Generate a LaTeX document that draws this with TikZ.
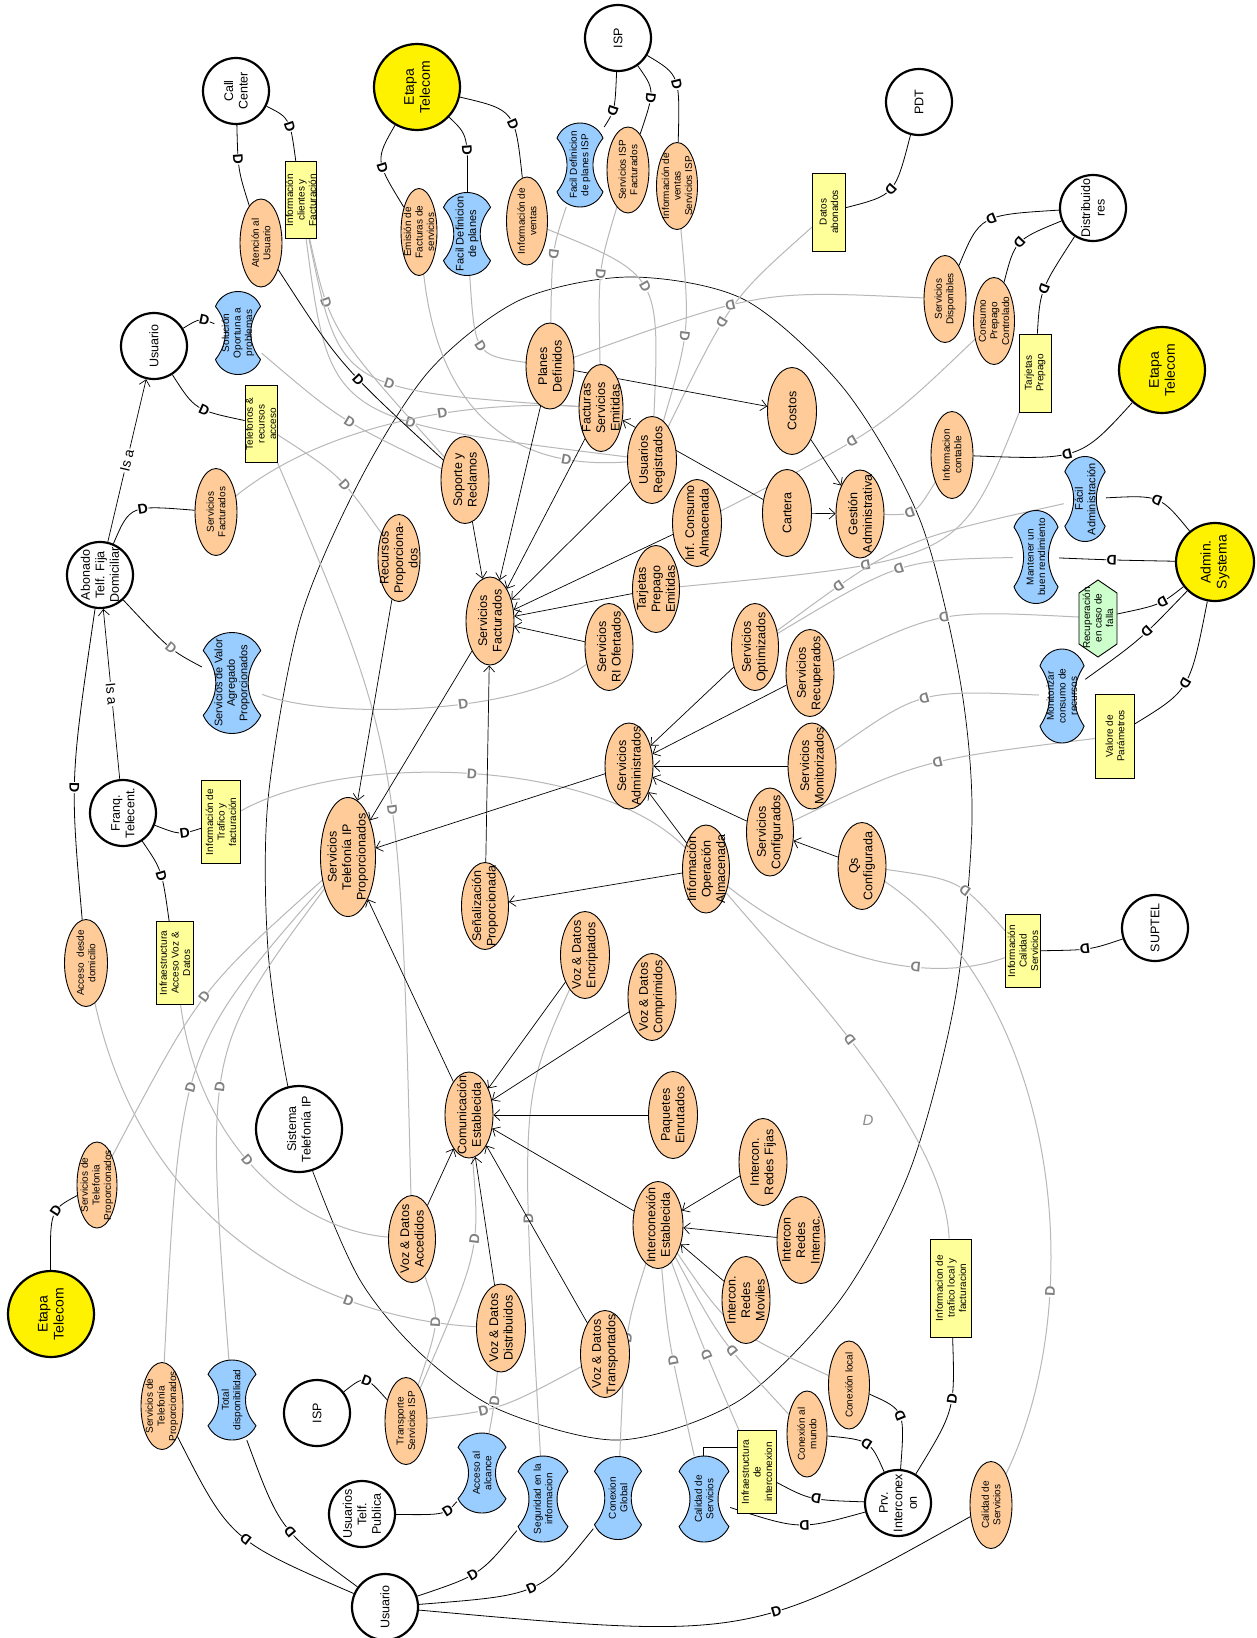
\documentclass[tikz,border=0pt]{standalone}
\usepackage{fontspec}
\setmainfont{Liberation Sans}
\usetikzlibrary{shapes.geometric,arrows.meta,backgrounds}

\definecolor{peach}{HTML}{FFCC99}
\definecolor{lightyel}{HTML}{FFFF99}
\definecolor{sky}{HTML}{99CCFF}
\definecolor{taskgreen}{HTML}{CCFFCC}

\newcommand{\fetapa}{\fontsize{14}{16}\selectfont}
\newcommand{\fact}{\fontsize{12.5}{14.5}\selectfont}
\newcommand{\fbig}{\fontsize{12.5}{14.5}\selectfont}
\newcommand{\fmid}{\fontsize{11}{12.5}\selectfont}
\newcommand{\fsmall}{\fontsize{10}{11.6}\selectfont}

\tikzset{
  actor/.style={circle, draw, line width=2.2pt, fill=white, inner sep=0pt},
  etapa/.style={actor, fill=yellow},
  goal/.style={ellipse, draw, line width=0.9pt, fill=peach, inner sep=0pt, rotate=90},
  resource/.style={rectangle, draw, line width=0.9pt, fill=lightyel, inner sep=0pt, rotate=90},
  lbl/.style={rotate=90, align=center, inner sep=0pt},
  softgoal/.style={draw, line width=0.9pt, fill=sky, line join=round},
  task/.style={draw, line width=0.9pt, fill=taskgreen},
  bound/.style={draw, line width=0.7pt},
  dep/.style={draw, line width=0.8pt},
  gdep/.style={draw=black!28, line width=1pt},
  dmark/.style={sloped, allow upside down, fill=white, inner sep=0.4pt, font=\bfseries\fontsize{14}{14}\selectfont},
  gdmark/.style={dmark, text=black!50},
  means/.style={line width=0.7pt, -{Straight Barb[length=6pt,width=11pt]}},
  isalbl/.style={sloped, fill=white, inner sep=1pt, font=\fontsize{14}{14}\selectfont},
}

% shape node + label node
\newcommand{\elem}[8][\fbig]{%
  \node[#2, minimum width=#7, minimum height=#6] (#3) at (#4,#5) {};
  \node[lbl, font=#1] (#3-t) at (#4,#5) {#8};}
% softgoal blob
\newcommand{\soft}[7][\fsmall]{%
  \draw[softgoal, shift={(#3,#4)}] ({-0.48*#5},{-0.32*#6}) .. controls ({-0.3*#5},{-0.56*#6}) and ({0.3*#5},{-0.56*#6}) .. ({0.48*#5},{-0.32*#6})
    .. controls ({0.2*#5},{-0.12*#6}) and ({0.2*#5},{0.12*#6}) .. ({0.48*#5},{0.32*#6})
    .. controls ({0.3*#5},{0.56*#6}) and ({-0.3*#5},{0.56*#6}) .. ({-0.48*#5},{0.32*#6})
    .. controls ({-0.2*#5},{0.12*#6}) and ({-0.2*#5},{-0.12*#6}) .. cycle;
  \node[rotate=90, minimum width=#6, minimum height=#5, inner sep=0pt] (#2) at (#3,#4) {};
  \node[lbl, font=#1] (#2-t) at (#3,#4) {#7};}

\begin{document}
\begin{tikzpicture}[x=1pt,y=-1pt]
\useasboundingbox (0,0) rectangle (1257,1638);

% actors
\elem[\fetapa]{etapa}{etapaA}{417}{87}{86}{86}{Etapa\\Telecom}
\elem[\fetapa]{etapa}{etapaB}{1162}{370}{86}{86}{Etapa\\Telecom}
\elem[\fetapa]{etapa}{etapaC}{51}{1314}{86}{86}{Etapa\\Telecom}
\elem[\fetapa]{etapa}{admin}{1215}{562}{78}{78}{Admin.\\Systema}
\elem[\fact]{actor}{callc}{236}{91}{66}{66}{Call\\Center}
\elem[\fact]{actor}{ispA}{618}{38}{66}{66}{ISP}
\elem[\fact]{actor}{pdt}{919}{102}{66}{66}{PDT}
\elem[\fact]{actor}{distr}{1093}{208}{66}{66}{Distribuido\\res}
\elem[\fact]{actor}{usuarioA}{154}{346}{66}{66}{Usuario}
\elem[\fact]{actor}{abonado}{100}{575}{66}{66}{Abonado\\Telf. Fija\\Domiciliar}
\elem[\fact]{actor}{franq}{123}{813}{66}{66}{Franq.\\Telecent.}
\elem[\fact]{actor}{suptel}{1155}{928}{66}{66}{SUPTEL}
\elem[\fact]{actor}{sistema}{299}{1129}{86}{86}{Sistema\\Telefonía IP}
\elem[\fact]{actor}{ispB}{317}{1413}{66}{66}{ISP}
\elem[\fact]{actor}{utp}{362}{1514}{66}{66}{Usuarios\\Telf.\\Publica}
\elem[\fact]{actor}{usuarioB}{385}{1607}{66}{66}{Usuario}
\elem[\fact]{actor}{prv}{898}{1503}{66}{66}{Prv.\\Interconex\\on}

% resources
\elem[\fsmall]{resource}{infocli}{301}{200}{31}{77}{Información\\clientes y\\Facturación}
\elem[\fsmall]{resource}{telef}{261}{424}{32}{77}{Telefonos \&\\recursos\\acceso}
\elem[\fsmall]{resource}{datosab}{829}{212}{33}{78}{Datos\\abonados}
\elem[\fsmall]{resource}{tarjbox}{1035}{373}{32}{78}{Tarjetas\\Prepago}
\elem[\fsmall]{resource}{valore}{1115}{736}{39}{84}{Valore de\\Parámetros}
\elem[\fsmall]{resource}{infotraf}{221}{822}{39}{83}{Información de\\Trafico y\\facturación}
\elem[\fsmall]{resource}{infraacc}{175}{963}{37}{83}{Infraestructura\\Acceso Voz \&\\Datos}
\elem[\fsmall]{resource}{ics}{1023}{951}{35}{73}{Información\\Calidad\\Servicios}
\elem[\fsmall]{resource}{infraint}{757}{1472}{39}{83}{Infraestructura\\de\\interconexion}
\elem[\fsmall]{resource}{infotrafloc}{951}{1288}{41}{98}{Informacion de\\trafico local y\\facturacion}

% outer goals
\elem[\fsmall]{goal}{atencion}{261}{243}{42}{88}{Atención al\\Usuario}
\elem[\fsmall]{goal}{emision}{419}{232}{36}{87}{Emisión de\\Facturas de\\servicios}
\elem[\fsmall]{goal}{infoventas}{527}{221}{41}{88}{Información de\\ventas}
\elem[\fsmall]{goal}{servispf}{628}{170}{42}{86}{Servicios ISP\\Facturados}
\elem[\fsmall]{goal}{infoventisp}{677}{186}{41}{87}{Información de\\ventas\\Servicios ISP}
\elem[\fsmall]{goal}{servdisp}{945}{299}{42}{87}{Servicios\\Disponibles}
\elem[\fsmall]{goal}{consumo}{994}{321}{41}{87}{Consumo\\Prepago\\Controlado}
\elem[\fsmall]{goal}{infocont}{952}{455}{42}{87}{Informacion\\contable}
\elem[\fsmall]{goal}{servfactA}{216}{512}{42}{87}{Servicios\\Facturados}
\elem[\fsmall]{goal}{acceso}{86}{963}{43}{87}{Acceso~~desde\\domicilio}
\elem[\fsmall]{goal}{stpA}{97}{1185}{40}{86}{Servicios de\\Telefonia\\Proporcionados}
\elem[\fsmall]{goal}{stpB}{162}{1406}{42}{87}{Servicios de\\Telefonía\\Proporcionados}
\elem[\fsmall]{goal}{transp}{406}{1421}{42}{87}{Transporte\\Servicios ISP}
\elem[\fsmall]{goal}{conexmundo}{807}{1434}{40}{86}{Conexión al\\mundo}
\elem[\fsmall]{goal}{conexlocal}{849}{1385}{41}{88}{Conexión local}
\elem[\fsmall]{goal}{calidadE}{991}{1505}{42}{87}{Calidad de\\Servicios}

% inner goals
\elem{goal}{planes}{550}{366}{48}{86}{Planes\\Definidos}
\elem{goal}{facturas}{601}{408}{44}{87}{Facturas\\Servicios\\Emitidas}
\elem{goal}{costos}{792}{411}{49}{87}{Costos}
\elem{goal}{soporte}{465}{480}{48}{87}{Soporte y\\Reclamos}
\elem{goal}{usuariosreg}{652}{460}{49}{87}{Usuarios\\Registrados}
\elem{goal}{cartera}{787}{513}{49}{87}{Cartera}
\elem{goal}{gestion}{860}{514}{48}{88}{Gestión\\Administrativa}
\elem{goal}{ica}{697}{523}{49}{87}{Inf. Consumo\\Almacenada}
\elem{goal}{tpe}{656}{589}{47}{87}{Tarjetas\\Prepago\\Emitidas}
\elem{goal}{recursos}{399}{558}{42}{87}{Recursos\\Proporciona-\\dos}
\elem{goal}{servfact}{490}{621}{48}{88}{Servicios\\Facturados}
\elem{goal}{servri}{609}{647}{48}{87}{Servicios\\RI Ofertados}
\elem{goal}{servopt}{755}{647}{47}{87}{Servicios\\Optimizados}
\elem{goal}{servrec}{810}{673}{48}{87}{Servicios\\Recuperados}
\elem{goal}{servadm}{629}{766}{48}{86}{Servicios\\Administrados}
\elem{goal}{servmon}{812}{766}{48}{86}{Servicios\\Monitorizados}
\elem{goal}{servconf}{770}{832}{47}{88}{Servicios\\Configurados}
\elem{goal}{qs}{862}{866}{48}{87}{Qs\\Configurada}
\elem{goal}{ioa}{706}{869}{47}{88}{Información\\Operación\\Almacenada}
\elem{goal}{stip}{348}{857}{55}{119}{Servicios\\Telefonía IP\\Proporcionados}
\elem{goal}{senal}{485}{906}{47}{87}{Señalización\\Proporcionada}
\elem{goal}{vde}{585}{955}{49}{87}{Voz \& Datos\\Encriptados}
\elem{goal}{vdc}{652}{997}{48}{87}{Voz \& Datos\\Comprimidos}
\elem{goal}{comun}{469}{1115}{48}{86}{Comunicación\\Establecida}
\elem{goal}{paquetes}{673}{1115}{49}{87}{Paquetes\\Enrutados}
\elem{goal}{irf}{763}{1162}{48}{87}{Intercon.\\Redes Fijas}
\elem{goal}{interest}{658}{1225}{50}{87}{Interconexión\\Establecida}
\elem{goal}{iri}{801}{1240}{48}{87}{Intercon\\Redes\\Internac.}
\elem{goal}{irm}{746}{1300}{48}{87}{Intercon.\\Redes\\Moviles}
\elem{goal}{vda}{412}{1239}{47}{87}{Voz \& Datos\\Accedidos}
\elem{goal}{vdd}{501}{1328}{49}{88}{Voz \& Datos\\Distribuidos}
\elem{goal}{vdt}{605}{1354}{49}{87}{Voz \& Datos\\Transportados}

% softgoals
\soft[\fsmall]{solucion}{238}{333}{47}{83}{Solución\\Oportuna a\\problemas}
\soft[\fmid]{facildef}{467}{234}{49}{83}{Facil Definicion\\de planes}
\soft[\fsmall]{facildefisp}{580}{165}{48}{84}{Facil Definicion\\de planes ISP}
\soft[\fmid]{sva}{232}{683}{60}{101}{Servicios de Valor\\Agregado\\Proporcionados}
\soft[\fmid]{faciladm}{1085}{499}{42}{85}{Fácil\\Administración}
\soft[\fsmall]{mantener}{1036}{557}{46}{93}{Mantener un\\buen rendimiento}
\soft[\fsmall]{monitorizar}{1062}{696}{46}{94}{Monitorizar\\consumo de\\recursos}
\soft[\fsmall]{totaldisp}{232}{1400}{50}{80}{Total\\disponibilidad}
\soft[\fsmall]{accesoalc}{482}{1473}{50}{80}{Acceso al\\alcance}
\soft[\fsmall]{seguridad}{543}{1499}{52}{86}{Seguridad en la\\informacion}
\soft[\fsmall]{conexglobal}{618}{1498}{49}{83}{Conexion\\Global}
\soft[\fsmall]{calidadB}{704}{1499}{52}{86}{Calidad de\\Servicios}

% task
\draw[task] (1098,580) -- (1117,593) -- (1117,644) -- (1098,657) -- (1079,644) -- (1079,593) -- cycle;
\node[rotate=90, minimum width=77, minimum height=38, inner sep=0pt] (recup) at (1098,618) {};
\node[lbl, font=\fsmall] (recup-t) at (1098,618) {Recuperación\\en caso de\\falla};

\node[text=black!45, font=\itshape\fontsize{15}{15}\selectfont] (strayd) at (868,1120) {D};

\coordinate (ibend) at (738,1447);
\coordinate (cbtop) at (703,1456);

\begin{pgfonlayer}{background}
\fill[white] (0,0) rectangle (1257,1638);
% boundary of Sistema Telefonia IP
\draw[bound] plot[smooth cycle] coordinates {(288,1087) (268,950) (268,800) (300,620) (360,480) (430,370) (520,300) (630,277) (745,300) (845,390) (920,520) (960,680) (972,820) (955,1000) (910,1170) (840,1300) (740,1400) (620,1440) (500,1410) (420,1353) (360,1280) (313,1172)};

% grey links to the inner elements
\draw[gdep] (facildef) .. controls (475,355) .. (planes) node[gdmark,pos=.5]{D};
\draw[gdep] (infoventas) .. controls (660,275) .. (usuariosreg) node[gdmark,pos=.5]{D};
\draw[gdep] (facildefisp) .. controls (552,250) .. (planes) node[gdmark,pos=.5]{D};
\draw[gdep] (servispf) .. controls (598,270) .. (facturas) node[gdmark,pos=.5]{D};
\draw[gdep] (infoventisp) .. controls (690,330) .. (usuariosreg) node[gdmark,pos=.55]{D};
\draw[gdep] (datosab) .. controls (730,300) .. (usuariosreg) node[gdmark,pos=.6]{D};
\draw[gdep] (servdisp) .. controls (760,290) .. (planes) node[gdmark,pos=.6]{D};
\draw[gdep] (consumo) .. controls (880,430) .. (ica) node[gdmark,pos=.6]{D};
\draw[gdep] (tarjbox) .. controls (960,560) .. (tpe) node[gdmark,pos=.7]{D};
\draw[gdep] (infocont) .. controls (915,515) .. (gestion) node[gdmark,pos=.6]{D};
\draw[gdep] (faciladm) .. controls (900,540) .. (servopt) node[gdmark,pos=.8]{D};
\draw[gdep] (mantener) .. controls (900,560) .. (servopt) node[gdmark,pos=.5]{D};
\draw[gdep] (recup) .. controls (940,610) .. (servrec) node[gdmark,pos=.5]{D};
\draw[gdep] (monitorizar) .. controls (920,690) .. (servmon) node[gdmark,pos=.5]{D};
\draw[gdep] (valore) .. controls (920,760) .. (servconf) node[gdmark,pos=.45]{D};
\draw[gdep] (ics) .. controls (960,880) .. (qs) node[gdmark,pos=.4]{D};
\draw[gdep] (ics) .. controls (930,985) and (820,960) .. (ioa) node[gdmark,pos=.35]{D};
\draw[gdep] (infotrafloc) .. controls (945,1130) and (800,980) .. (ioa) node[gdmark,pos=.55]{D};
\draw[gdep] (calidadE) .. controls (1090,1300) and (1060,1000) .. (qs) node[gdmark,pos=.3]{D};
\draw[gdep] (infotraf) .. controls (350,750) and (600,760) .. (ioa) node[gdmark,pos=.5]{D};
\draw[gdep] (sva) .. controls (330,720) and (520,715) .. (servri) node[gdmark,pos=.6]{D};
\draw[gdep] (solucion) .. controls (340,420) .. (soporte) node[gdmark,pos=.55]{D};
\draw[gdep] (telef) .. controls (340,475) .. (recursos) node[gdmark,pos=.6]{D};
\draw[gdep] (telef) .. controls (400,750) .. (vda) node[gdmark,pos=.57]{D};
\draw[gdep] (infocli) .. controls (330,330) .. (soporte) node[gdmark,pos=.3]{D};
\draw[gdep] (infocli) .. controls (340,390) .. (facturas) node[gdmark,pos=.6]{D};
\draw[gdep] (infocli) .. controls (330,420) .. (usuariosreg) node[gdmark,pos=.65]{D};
\draw[gdep] (emision) .. controls (440,420) and (520,470) .. (usuariosreg) node[gdmark,pos=.8]{D};
\draw[gdep] (servfactA) .. controls (330,420) and (480,400) .. (facturas) node[gdmark,pos=.6]{D};
\draw[gdep] (stpA) .. controls (200,990) .. (stip) node[gdmark,pos=.5]{D};
\draw[gdep] (stpB) .. controls (180,1050) .. (stip) node[gdmark,pos=.45]{D};
\draw[gdep] (totaldisp) .. controls (205,1050) .. (stip) node[gdmark,pos=.45]{D};
\draw[gdep] (acceso) .. controls (150,1250) and (350,1320) .. (vdd) node[gdmark,pos=.7]{D};
\draw[gdep] (infraacc) .. controls (200,1150) and (300,1230) .. (vda) node[gdmark,pos=.45]{D};
\draw[gdep] (transp) .. controls (500,1410) .. (vdt) node[gdmark,pos=.35]{D};
\draw[gdep] (transp) .. controls (440,1320) .. (vda) node[gdmark,pos=.5]{D};
\draw[gdep] (transp) .. controls (480,1250) .. (comun) node[gdmark,pos=.6]{D};
\draw[gdep] (accesoalc) .. controls (495,1400) .. (vdd) node[gdmark,pos=.5]{D};
\draw[gdep] (seguridad) .. controls (520,1100) .. (vde) node[gdmark,pos=.3]{D};
\draw[gdep] (conexglobal) .. controls (625,1330) .. (interest) node[gdmark,pos=.5]{D};
\draw[gdep] (calidadB) .. controls (668,1340) .. (interest) node[gdmark,pos=.4]{D};
\draw[gdep] (infraint) .. controls (700,1340) .. (interest) node[gdmark,pos=.4]{D};
\draw[gdep] (conexmundo) .. controls (720,1340) .. (interest) node[gdmark,pos=.4]{D};
\draw[gdep] (conexlocal) .. controls (730,1330) .. (interest) node[gdmark,pos=.4]{D};

% dependencies between actors and dependums
\draw[dep] (callc) .. controls (238,170) .. (atencion) node[dmark,pos=.35]{D};
\draw[dep] (callc) .. controls (290,118) .. (infocli) node[dmark,pos=.6]{D};
\draw[dep] (atencion) .. controls (340,365) .. (soporte) node[dmark,pos=.6]{D};
\draw[dep] (usuarioA) .. controls (200,318) .. (solucion) node[dmark,pos=.7]{D};
\draw[dep] (usuarioA) .. controls (195,410) .. (telef) node[dmark,pos=.6]{D};
\draw[dep] (etapaA) .. controls (375,160) .. (emision) node[dmark,pos=.6]{D};
\draw[dep] (etapaA) .. controls (468,135) .. (facildef) node[dmark,pos=.65]{D};
\draw[dep] (etapaA) .. controls (515,110) .. (infoventas) node[dmark,pos=.6]{D};
\draw[dep] (ispA) .. controls (615,110) .. (facildefisp) node[dmark,pos=.6]{D};
\draw[dep] (ispA) .. controls (655,90) .. (servispf) node[dmark,pos=.6]{D};
\draw[dep] (ispA) .. controls (680,75) .. (infoventisp) node[dmark,pos=.55]{D};
\draw[dep] (pdt) .. controls (895,195) .. (datosab) node[dmark,pos=.5]{D};
\draw[dep] (distr) .. controls (980,215) .. (servdisp) node[dmark,pos=.45]{D};
\draw[dep] (distr) .. controls (1015,240) .. (consumo) node[dmark,pos=.5]{D};
\draw[dep] (distr) .. controls (1040,290) .. (tarjbox) node[dmark,pos=.5]{D};
\draw[dep] (etapaB) .. controls (1080,460) .. (infocont) node[dmark,pos=.55]{D};
\draw[dep] (admin) .. controls (1160,495) .. (faciladm) node[dmark,pos=.5]{D};
\draw[dep] (admin) .. controls (1110,560) .. (mantener) node[dmark,pos=.5]{D};
\draw[dep] (admin) .. controls (1160,605) .. (recup) node[dmark,pos=.4]{D};
\draw[dep] (admin) .. controls (1140,640) .. (monitorizar) node[dmark,pos=.4]{D};
\draw[dep] (admin) .. controls (1190,690) .. (valore) node[dmark,pos=.5]{D};
\draw[dep] (abonado) .. controls (130,505) .. (servfactA) node[dmark,pos=.6]{D};
\draw[dep] (abonado) .. controls (170,650) .. (sva) node[gdmark,pos=.55]{D};
\draw[dep] (franq) .. controls (180,835) .. (infotraf) node[dmark,pos=.65]{D};
\draw[dep] (franq) .. controls (162,870) .. (infraacc) node[dmark,pos=.55]{D};
\draw[dep] (abonado) .. controls (70,780) .. (acceso) node[dmark,pos=.55]{D};
\draw[dep] (etapaC) .. controls (50,1210) .. (stpA) node[dmark,pos=.6]{D};
\draw[dep] (usuarioB) .. controls (230,1540) .. (stpB) node[dmark,pos=.45]{D};
\draw[dep] (usuarioB) .. controls (280,1530) .. (totaldisp) node[dmark,pos=.45]{D};
\draw[dep] (ispB) .. controls (365,1375) .. (transp) node[dmark,pos=.55]{D};
\draw[dep] (utp) .. controls (445,1515) .. (accesoalc) node[dmark,pos=.7]{D};
\draw[dep] (usuarioB) .. controls (480,1575) .. (seguridad) node[dmark,pos=.45]{D};
\draw[dep] (usuarioB) .. controls (540,1595) .. (conexglobal) node[dmark,pos=.5]{D};
\draw[dep] (usuarioB) .. controls (750,1640) .. (calidadE) node[dmark,pos=.6]{D};
\draw[dep] (prv) .. controls (800,1530) .. (calidadB) node[dmark,pos=.45]{D};
\draw[dep] (prv) .. controls (810,1500) .. (infraint) node[dmark,pos=.45]{D};
\draw[dep] (prv) .. controls (870,1440) .. (conexmundo) node[dmark,pos=.5]{D};
\draw[dep] (prv) .. controls (905,1410) .. (conexlocal) node[dmark,pos=.5]{D};
\draw[dep] (prv) .. controls (955,1410) .. (infotrafloc) node[dmark,pos=.6]{D};
\draw[dep] (suptel) .. controls (1090,950) .. (ics) node[dmark,pos=.55]{D};
\draw[dep] (ibend) -| (cbtop);

% is-a links
\draw[means] (abonado) -- node[isalbl]{Is a} (usuarioA);
\draw[means] (franq) -- node[isalbl]{Is a} (abonado);

% means-end links
\foreach \src in {soporte,planes,facturas,usuariosreg,ica,tpe,servri,senal}
  \draw[means] (\src) -- (servfact);
\draw[means] (planes) -- (costos);
\draw[means] (cartera) -- (facturas);
\draw[means] (cartera) -- (gestion);
\draw[means] (costos) -- (gestion);
\foreach \src in {recursos,servfact,servadm,comun}
  \draw[means] (\src) -- (stip);
\draw[means] (ioa) -- (senal);
\foreach \src in {ioa,servopt,servrec,servmon,servconf}
  \draw[means] (\src) -- (servadm);
\draw[means] (qs) -- (servconf);
\foreach \src in {vde,vdc,paquetes,interest,vdt,vdd,vda}
  \draw[means] (\src) -- (comun);
\foreach \src in {irf,iri,irm}
  \draw[means] (\src) -- (interest);
\end{pgfonlayer}
\end{tikzpicture}
\end{document}
